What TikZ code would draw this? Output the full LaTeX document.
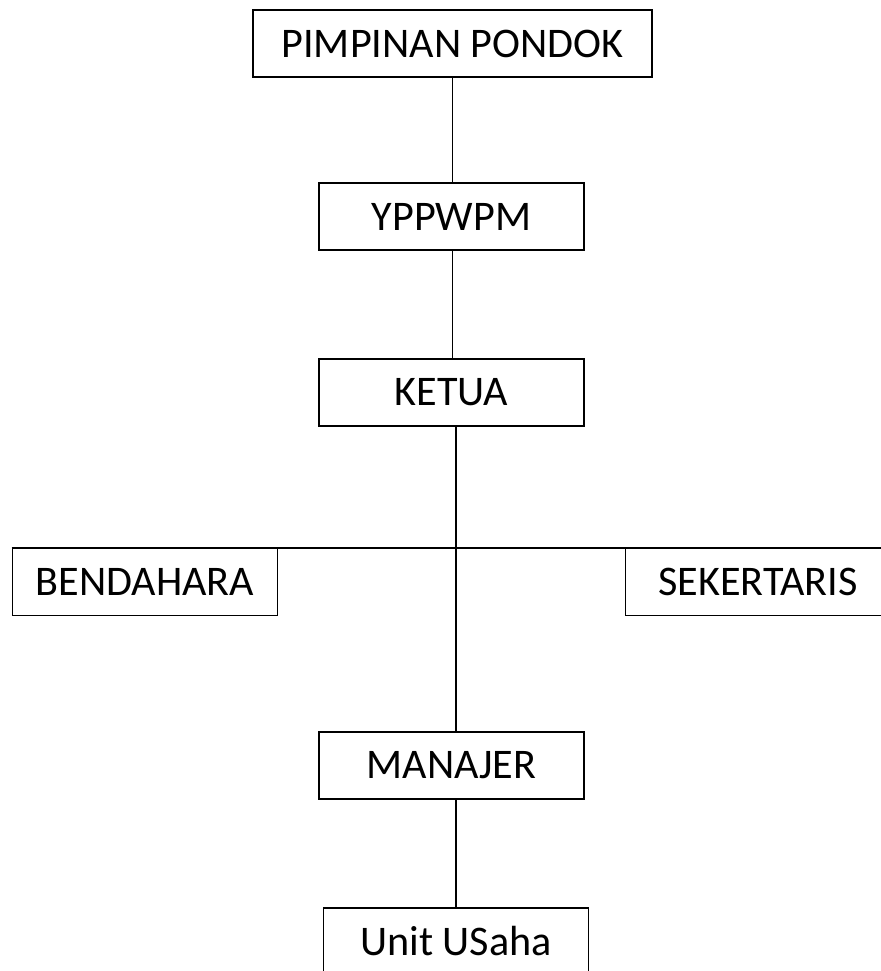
\documentclass[tikz,border=0pt]{standalone}
\usepackage{fontspec}
\setmainfont{Carlito}
\usetikzlibrary{positioning}

\tikzset{
    box/.style={draw, line width=1pt, minimum width=5.3cm, minimum height=1.34cm,
        inner sep=0pt, font=\fontsize{24}{29}\selectfont},
    link/.style={line width=1pt}
}

\begin{document}
\begin{tikzpicture}[x=0.02cm, y=-0.02cm]
            \useasboundingbox (0,0) rectangle (880,971);
            % boxes
            \node[box, minimum width=7.98cm] (pimpinan) at (452.5,43.5) {PIMPINAN PONDOK};
            \node[box] (yppwpm) at (451.5,216.5) {YPPWPM};
            \node[box] (ketua) at (451.5,392.5) {KETUA};
            \node[box] (bendahara) at (145,582) {BENDAHARA};
            \node[box] (sekertaris) at (758,582) {SEKERTARIS};
            \node[box] (manajer) at (451.5,765.5) {MANAJER};
            \node[box] (unit) at (456,941.5) {Unit USaha};
            % lines
            \draw[link] (pimpinan.south) -- (pimpinan.south |- yppwpm.north);
            \draw[link] (yppwpm.south -| pimpinan.south) -- (pimpinan.south |- ketua.north);
            \draw[link] (unit.north |- ketua.south) -- (unit.north |- manajer.north);
            \draw[link] (unit.north |- manajer.south) -- (unit.north);
            \draw[link] (bendahara.north west) -- (sekertaris.north east);
        \end{tikzpicture}
\end{document}
